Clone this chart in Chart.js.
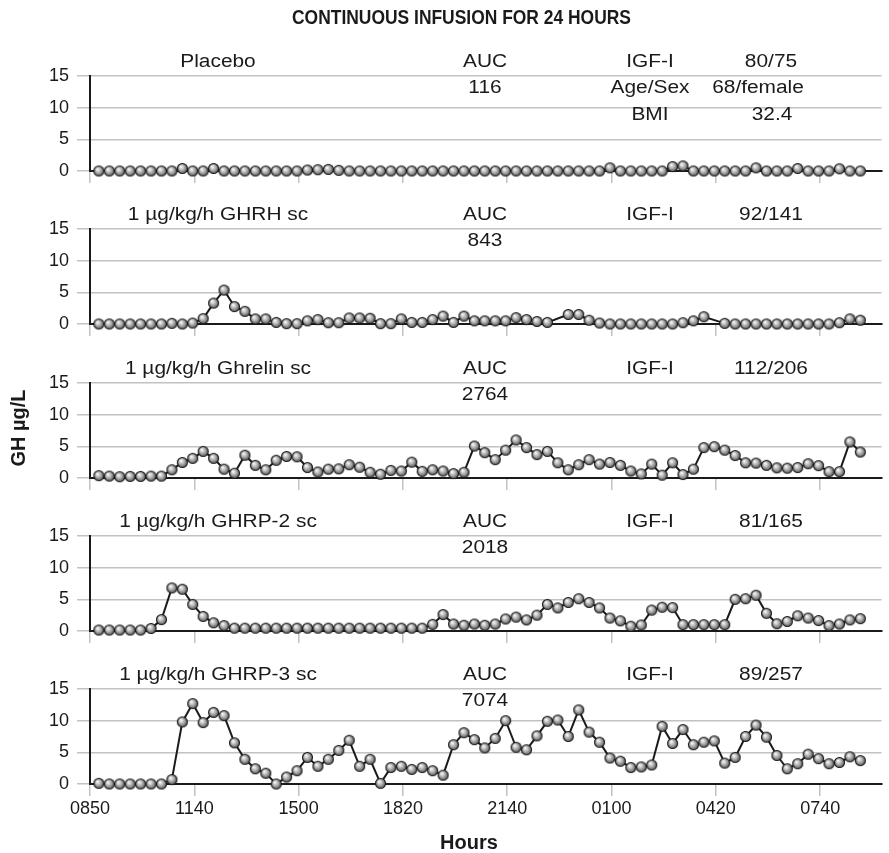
<!DOCTYPE html>
<html>
<head>
<meta charset="utf-8">
<title>Continuous infusion for 24 hours</title>
<script src="https://cdn.jsdelivr.net/npm/chart.js@4.4.1/dist/chart.umd.min.js"></script>
<style>
  html, body { margin: 0; padding: 0; background: #ffffff; }
  #wrap { position: relative; width: 889px; height: 853px; overflow: hidden; }
  #wrap canvas { position: absolute; left: 0; top: 0; }
</style>
</head>
<body>
<div id="wrap"></div>
<script>
// ---- data -------------------------------------------------------------
// Clock labels under the labelled ticks (one every 10 samples)
const tickLabels = ['0850', '1140', '1500', '1820', '2140', '0100', '0420', '0740'];

const panelLabels = [
  'Placebo',
  '1 µg/kg/h GHRH sc',
  '1 µg/kg/h Ghrelin sc',
  '1 µg/kg/h GHRP-2 sc',
  '1 µg/kg/h GHRP-3 sc'
];
const aucValues = ['116', '843', '2764', '2018', '7074'];
const igfValues = ['80/75', '92/141', '112/206', '81/165', '89/257'];
// Extra subject details listed in the placebo panel
const subjectRows = [['Age/Sex', '68/female'], ['BMI', '32.4']];

// GH concentration (µg/L), 74 samples at 20-min intervals
const placebo = [0, 0, 0, 0, 0, 0, 0, 0, 0.4, 0, 0, 0.4, 0, 0, 0, 0, 0, 0, 0, 0,
  0.15, 0.2, 0.25, 0.1, 0, 0, 0, 0, 0, 0, 0, 0, 0, 0, 0, 0, 0, 0, 0, 0,
  0, 0, 0, 0, 0, 0, 0, 0, 0, 0.5, 0, 0, 0, 0, 0, 0.7, 0.8, 0, 0, 0,
  0, 0, 0, 0.5, 0, 0, 0, 0.4, 0, 0, 0, 0.35, 0, 0];

const ghrh = [0, 0, 0, 0, 0, 0, 0, 0.1, 0, 0.15, 0.85, 3.3, 5.35, 2.75, 2.0, 0.8, 0.8, 0.25, 0.05, 0.05,
  0.5, 0.7, 0.2, 0.2, 0.95, 0.95, 0.9, 0.05, 0.05, 0.8, 0.25, 0.25, 0.7, 1.25, 0.25, 1.25, 0.5, 0.5, 0.5, 0.5,
  1.0, 0.7, 0.4, 0.25, null, 1.5, 1.5, 0.6, 0.15, 0, 0, 0, 0, 0, 0, 0, 0.2, 0.5, 1.15, null,
  0.1, 0, 0, 0, 0, 0, 0, 0, 0, 0, 0, 0.2, 0.8, 0.6];

const ghrelin = [0.37, 0.3, 0.2, 0.25, 0.25, 0.3, 0.3, 1.3, 2.45, 3.1, 4.2, 3.1, 1.4, 0.75, 3.6, 2.0, 1.3, 2.8, 3.4, 3.35,
  1.65, 0.95, 1.4, 1.45, 2.1, 1.7, 0.9, 0.6, 1.2, 1.1, 2.5, 1.05, 1.3, 1.1, 0.7, 0.9, 5.05, 4.0, 2.9, 4.4,
  6.0, 4.8, 3.7, 4.2, 2.4, 1.3, 2.1, 2.9, 2.2, 2.45, 2.0, 1.1, 0.65, 2.2, 0.45, 2.4, 0.55, 1.4, 4.8, 4.95,
  4.4, 3.55, 2.4, 2.35, 2.0, 1.6, 1.55, 1.65, 2.25, 1.95, 1.0, 1.0, 5.7, 4.1];

const ghrp2 = [0.15, 0.15, 0.15, 0.15, 0.15, 0.4, 1.8, 6.8, 6.6, 4.2, 2.3, 1.3, 0.85, 0.45, 0.45, 0.45, 0.45, 0.45, 0.45, 0.45,
  0.45, 0.45, 0.45, 0.45, 0.45, 0.45, 0.45, 0.45, 0.45, 0.45, 0.45, 0.45, 1.05, 2.6, 1.1, 0.9, 1.1, 0.9, 1.1, 1.9,
  2.2, 1.75, 2.5, 4.2, 3.65, 4.5, 5.1, 4.5, 3.65, 2.05, 1.6, 0.75, 0.95, 3.3, 3.75, 3.7, 1.0, 1.0, 1.0, 1.0,
  1.0, 5.0, 5.1, 5.65, 2.8, 1.15, 1.5, 2.4, 2.05, 1.65, 0.85, 1.1, 1.75, 1.95];

const ghrp3 = [0.1, 0, 0, 0, 0, 0, 0, 0.7, 9.8, 12.7, 9.7, 11.3, 10.8, 6.5, 3.9, 2.4, 1.7, 0, 1.1, 2.1,
  4.2, 2.8, 3.9, 5.3, 6.9, 2.8, 3.9, 0.1, 2.6, 2.8, 2.3, 2.6, 2.1, 1.4, 6.2, 8.1, 7.0, 5.7, 7.2, 10.0,
  5.8, 5.4, 7.6, 9.9, 10.1, 7.5, 11.7, 8.2, 6.6, 4.1, 3.6, 2.6, 2.7, 3.0, 9.1, 6.4, 8.6, 6.2, 6.6, 6.8,
  3.3, 4.2, 7.5, 9.3, 7.4, 4.5, 2.4, 3.2, 4.7, 4.0, 3.2, 3.4, 4.3, 3.7];

const seriesList = [placebo, ghrh, ghrelin, ghrp2, ghrp3];

// ---- layout -------------------------------------------------------------
const W = 889, H = 853;
const FIRST_TOP = 76;        // top of the first plot area
const PANEL_STEP = 153.25;   // distance between stacked panels
const PLOT_H = 95;           // plot-area height (0..15)
const Y_AXIS_W = 90;
const X_AXIS_H = 40;
const X_MIN = -0.85, X_MAX = 75.03;   // in sample units
const FIRST_TICK = -0.85, TICK_STEP = 10;

const FONT = '"Liberation Sans", Arial, Helvetica, sans-serif';
const INK = '#1a1a1a';
const GRID = '#c2c2c2';

// Shaded sphere used as the point marker
function makeMarker() {
  const c = document.createElement('canvas');
  c.width = 13; c.height = 13;
  const g = c.getContext('2d');
  const grad = g.createRadialGradient(5.0, 4.7, 0.4, 6.5, 6.5, 5.6);
  grad.addColorStop(0, '#f8f8f8');
  grad.addColorStop(0.45, '#b2b2b2');
  grad.addColorStop(1, '#474747');
  g.beginPath();
  g.arc(6.5, 6.5, 5.0, 0, Math.PI * 2);
  g.fillStyle = grad;
  g.fill();
  g.lineWidth = 1.1;
  g.strokeStyle = '#1a1a1a';
  g.stroke();
  return c;
}
const marker = makeMarker();

function drawText(ctx, text, x, y, font, sx, rot) {
  ctx.save();
  ctx.font = font;
  ctx.fillStyle = INK;
  ctx.textAlign = 'center';
  ctx.textBaseline = 'middle';
  ctx.translate(x, y);
  if (rot) ctx.rotate(rot);
  ctx.scale(sx || 1, 1);
  ctx.fillText(text, 0, 0);
  ctx.restore();
}

const LABEL_FONT = '18px ' + FONT;
const LABEL_SX = 1.16;

const panelTextPlugin = {
  id: 'panelText',
  afterDraw(chart, args, opts) {
    const k = opts.panel;
    const top = chart.chartArea.top;
    const ctx = chart.ctx;
    const rowA = top - 13.5, rowB = top + 12.5, rowC = top + 39;
    drawText(ctx, panelLabels[k], 218, rowA, LABEL_FONT, LABEL_SX);
    drawText(ctx, 'AUC', 485, rowA, LABEL_FONT, LABEL_SX);
    drawText(ctx, aucValues[k], 485, rowB, LABEL_FONT, LABEL_SX);
    drawText(ctx, 'IGF-I', 650, rowA, LABEL_FONT, LABEL_SX);
    drawText(ctx, igfValues[k], 771, rowA, LABEL_FONT, LABEL_SX);
    if (k === 0) {
      drawText(ctx, subjectRows[0][0], 650, rowB, LABEL_FONT, LABEL_SX);
      drawText(ctx, subjectRows[0][1], 758, rowB, LABEL_FONT, LABEL_SX);
      drawText(ctx, subjectRows[1][0], 650, rowC, LABEL_FONT, LABEL_SX);
      drawText(ctx, subjectRows[1][1], 772, rowC, LABEL_FONT, LABEL_SX);
    }
    if (opts.pageText) {
      drawText(ctx, 'CONTINUOUS INFUSION FOR 24 HOURS', 461.5, 18, 'bold 21px ' + FONT, 0.83);
      drawText(ctx, 'GH µg/L', 19, 428, 'bold 20px ' + FONT, 1, -Math.PI / 2);
      drawText(ctx, 'Hours', 469, 843, 'bold 20px ' + FONT, 1);
    }
  }
};

const wrap = document.getElementById('wrap');

seriesList.forEach((values, k) => {
  const canvas = document.createElement('canvas');
  canvas.width = W; canvas.height = H;
  wrap.appendChild(canvas);
  const top = Math.round(FIRST_TOP + k * PANEL_STEP);
  const isLast = k === seriesList.length - 1;

  new Chart(canvas, {
    type: 'line',
    data: {
      datasets: [{
        data: values.map((v, i) => ({ x: i, y: v })),
        borderColor: INK,
        borderWidth: 2,
        tension: 0,
        spanGaps: true,
        pointStyle: marker,
        pointRadius: 5.5,
        pointHoverRadius: 5.5,
        clip: false
      }]
    },
    options: {
      responsive: false,
      animation: false,
      events: [],
      layout: { padding: { top: top, left: 0, right: 0, bottom: H - (top + PLOT_H) - X_AXIS_H } },
      plugins: {
        legend: { display: false },
        tooltip: { enabled: false },
        panelText: { panel: k, pageText: isLast }
      },
      scales: {
        x: {
          type: 'linear',
          min: X_MIN,
          max: X_MAX,
          afterBuildTicks: (s) => {
            s.ticks = tickLabels.map((_, j) => ({ value: FIRST_TICK + j * TICK_STEP }));
          },
          afterFit: (s) => { s.height = X_AXIS_H; },
          grid: { drawOnChartArea: false, drawTicks: true, tickLength: 12, color: GRID, lineWidth: 1.5 },
          border: { color: INK, width: 2 },
          ticks: {
            display: isLast,
            autoSkip: false,
            maxRotation: 0,
            padding: 2,
            color: INK,
            font: { family: FONT, size: 18 },
            callback: (value, index) => tickLabels[index]
          }
        },
        y: {
          min: 0,
          max: 15,
          afterFit: (s) => { s.width = Y_AXIS_W; },
          grid: {
            color: (c) => (c.tick && c.tick.value === 0 ? 'rgba(0,0,0,0)' : GRID),
            tickColor: GRID,
            tickLength: 13,
            lineWidth: 1.5
          },
          border: { color: INK, width: 2 },
          ticks: { stepSize: 5, padding: 8, color: INK, font: { family: FONT, size: 18 } }
        }
      }
    },
    plugins: [panelTextPlugin]
  });
});
</script>
</body>
</html>
